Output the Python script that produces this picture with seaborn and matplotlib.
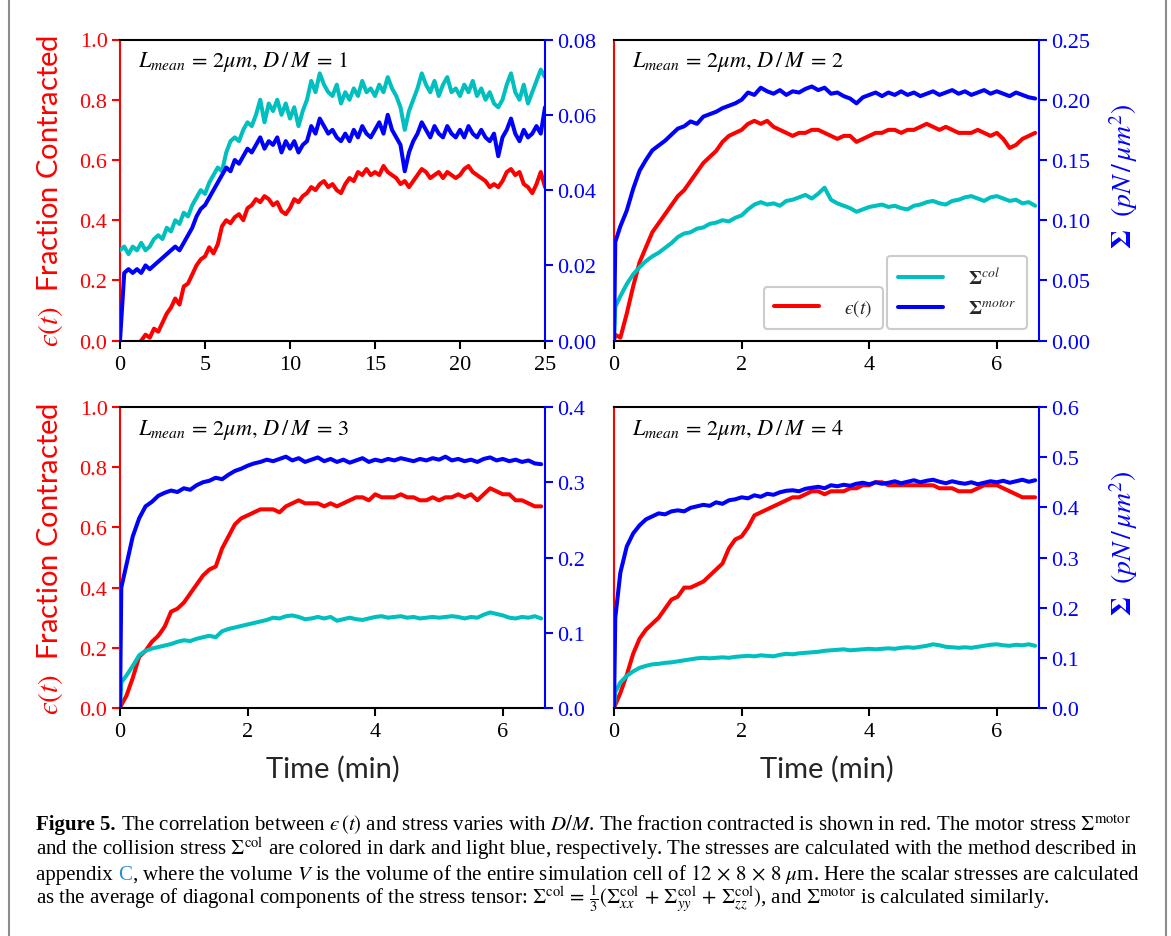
import numpy as np
import seaborn as sns
import matplotlib.pyplot as plt
from matplotlib.lines import Line2D

# ---- data ----
# panel 1 (D/M = 1), t = 0 .. 25 min, every 0.25 min
eps1 = [0.00, -0.02, -0.03, -0.02, -0.01, 0.00, 0.02, 0.01, 0.04, 0.03,
        0.06, 0.09, 0.11, 0.14, 0.12, 0.18, 0.19, 0.22, 0.25, 0.27,
        0.28, 0.31, 0.29, 0.32, 0.38, 0.40, 0.39, 0.41, 0.42, 0.40,
        0.44, 0.45, 0.47, 0.46, 0.48, 0.47, 0.45, 0.46, 0.43, 0.42,
        0.44, 0.47, 0.46, 0.48, 0.49, 0.51, 0.50, 0.52, 0.53, 0.51,
        0.52, 0.50, 0.49, 0.52, 0.54, 0.53, 0.56, 0.55, 0.57, 0.55,
        0.56, 0.55, 0.58, 0.56, 0.55, 0.54, 0.52, 0.53, 0.51, 0.53,
        0.55, 0.57, 0.56, 0.54, 0.55, 0.56, 0.54, 0.56, 0.55, 0.54,
        0.55, 0.57, 0.58, 0.56, 0.55, 0.54, 0.53, 0.51, 0.52, 0.51,
        0.53, 0.56, 0.57, 0.55, 0.56, 0.52, 0.51, 0.49, 0.52, 0.56,
        0.51]
col1 = [0.024, 0.025, 0.023, 0.025, 0.024, 0.026, 0.024, 0.025, 0.027, 0.028,
        0.027, 0.030, 0.029, 0.032, 0.031, 0.034, 0.033, 0.036, 0.038, 0.040,
        0.039, 0.042, 0.044, 0.046, 0.045, 0.050, 0.053, 0.054, 0.053, 0.056,
        0.058, 0.057, 0.060, 0.064, 0.058, 0.063, 0.061, 0.064, 0.060, 0.063,
        0.059, 0.062, 0.057, 0.061, 0.064, 0.069, 0.066, 0.071, 0.068, 0.066,
        0.065, 0.068, 0.063, 0.066, 0.064, 0.067, 0.065, 0.069, 0.066, 0.067,
        0.065, 0.068, 0.066, 0.070, 0.067, 0.065, 0.062, 0.056, 0.061, 0.064,
        0.067, 0.071, 0.068, 0.066, 0.069, 0.065, 0.068, 0.070, 0.066, 0.067,
        0.065, 0.068, 0.066, 0.069, 0.065, 0.067, 0.064, 0.066, 0.063, 0.062,
        0.064, 0.068, 0.071, 0.066, 0.064, 0.068, 0.063, 0.066, 0.069, 0.072,
        0.070]
motor1 = [0.000, 0.018, 0.019, 0.018, 0.019, 0.018, 0.020, 0.019, 0.020, 0.021,
          0.022, 0.023, 0.024, 0.025, 0.024, 0.026, 0.028, 0.030, 0.033, 0.035,
          0.036, 0.038, 0.040, 0.042, 0.044, 0.046, 0.045, 0.048, 0.047, 0.049,
          0.051, 0.050, 0.052, 0.054, 0.051, 0.053, 0.052, 0.054, 0.050, 0.053,
          0.051, 0.053, 0.050, 0.052, 0.053, 0.057, 0.055, 0.059, 0.057, 0.055,
          0.056, 0.054, 0.053, 0.055, 0.053, 0.056, 0.054, 0.057, 0.055, 0.054,
          0.056, 0.058, 0.055, 0.060, 0.056, 0.054, 0.052, 0.045, 0.050, 0.053,
          0.055, 0.058, 0.056, 0.054, 0.057, 0.055, 0.054, 0.057, 0.055, 0.054,
          0.056, 0.054, 0.057, 0.055, 0.054, 0.056, 0.054, 0.053, 0.055, 0.049,
          0.054, 0.056, 0.059, 0.055, 0.053, 0.056, 0.054, 0.055, 0.057, 0.055,
          0.062]

# panels 2-4, t = 0, 0.02, then 0.1 .. 6.6 min every 0.1 min
eps2 = [0.00, 0.02,
        0.01, 0.09, 0.18, 0.26, 0.31, 0.36, 0.39, 0.42, 0.45, 0.48,
        0.50, 0.53, 0.56, 0.59, 0.61, 0.63, 0.66, 0.68, 0.69, 0.70,
        0.72, 0.73, 0.72, 0.73, 0.71, 0.70, 0.69, 0.68, 0.69, 0.69,
        0.70, 0.70, 0.69, 0.68, 0.67, 0.68, 0.68, 0.66, 0.67, 0.68,
        0.69, 0.69, 0.70, 0.70, 0.69, 0.70, 0.70, 0.71, 0.72, 0.71,
        0.70, 0.71, 0.70, 0.69, 0.69, 0.69, 0.70, 0.69, 0.68, 0.69,
        0.67, 0.64, 0.65, 0.67, 0.68, 0.69]
motor2 = [0.000, 0.082,
          0.095, 0.108, 0.126, 0.141, 0.150, 0.158, 0.162, 0.166, 0.171, 0.176,
          0.178, 0.182, 0.180, 0.186, 0.188, 0.190, 0.193, 0.195, 0.197, 0.200,
          0.206, 0.204, 0.210, 0.207, 0.205, 0.208, 0.204, 0.207, 0.206, 0.209,
          0.211, 0.208, 0.210, 0.205, 0.206, 0.203, 0.201, 0.197, 0.202, 0.204,
          0.206, 0.203, 0.206, 0.204, 0.207, 0.204, 0.206, 0.203, 0.205, 0.207,
          0.204, 0.206, 0.208, 0.205, 0.207, 0.204, 0.206, 0.208, 0.205, 0.207,
          0.205, 0.203, 0.206, 0.204, 0.202, 0.201]
col2 = [0.000, 0.028,
        0.037, 0.047, 0.055, 0.061, 0.066, 0.070, 0.073, 0.077, 0.081, 0.086,
        0.089, 0.090, 0.093, 0.094, 0.097, 0.098, 0.100, 0.099, 0.102, 0.104,
        0.109, 0.113, 0.115, 0.113, 0.114, 0.112, 0.116, 0.117, 0.119, 0.121,
        0.118, 0.122, 0.127, 0.117, 0.114, 0.112, 0.110, 0.107, 0.109, 0.111,
        0.112, 0.113, 0.111, 0.112, 0.110, 0.109, 0.112, 0.113, 0.115, 0.116,
        0.114, 0.113, 0.116, 0.117, 0.119, 0.120, 0.118, 0.116, 0.119, 0.120,
        0.118, 0.116, 0.117, 0.114, 0.115, 0.112]

eps3 = [0.00, 0.01,
        0.04, 0.10, 0.17, 0.19, 0.22, 0.24, 0.27, 0.32, 0.33, 0.35,
        0.38, 0.41, 0.44, 0.46, 0.47, 0.53, 0.57, 0.61, 0.63, 0.64,
        0.65, 0.66, 0.66, 0.66, 0.65, 0.67, 0.68, 0.69, 0.68, 0.68,
        0.68, 0.67, 0.68, 0.67, 0.68, 0.69, 0.70, 0.70, 0.69, 0.71,
        0.70, 0.70, 0.70, 0.71, 0.70, 0.70, 0.69, 0.69, 0.70, 0.69,
        0.70, 0.70, 0.71, 0.70, 0.71, 0.69, 0.71, 0.73, 0.72, 0.71,
        0.71, 0.69, 0.69, 0.68, 0.67, 0.67]
motor3 = [0.000, 0.160,
          0.190, 0.228, 0.252, 0.268, 0.274, 0.282, 0.286, 0.289, 0.287, 0.292,
          0.290, 0.296, 0.300, 0.302, 0.306, 0.304, 0.310, 0.315, 0.318, 0.322,
          0.325, 0.327, 0.330, 0.328, 0.331, 0.334, 0.329, 0.332, 0.327, 0.330,
          0.333, 0.328, 0.331, 0.327, 0.330, 0.326, 0.329, 0.332, 0.327, 0.330,
          0.328, 0.331, 0.329, 0.332, 0.330, 0.328, 0.331, 0.329, 0.332, 0.330,
          0.334, 0.329, 0.331, 0.328, 0.330, 0.327, 0.331, 0.333, 0.329, 0.331,
          0.328, 0.330, 0.327, 0.329, 0.325, 0.324]
col3 = [0.000, 0.034,
        0.043, 0.056, 0.070, 0.076, 0.079, 0.081, 0.083, 0.085, 0.088, 0.090,
        0.089, 0.092, 0.094, 0.096, 0.094, 0.102, 0.105, 0.107, 0.109, 0.111,
        0.113, 0.115, 0.117, 0.120, 0.119, 0.122, 0.123, 0.121, 0.118, 0.119,
        0.121, 0.119, 0.121, 0.116, 0.118, 0.120, 0.118, 0.117, 0.119, 0.121,
        0.122, 0.120, 0.121, 0.122, 0.120, 0.121, 0.119, 0.120, 0.121, 0.120,
        0.121, 0.122, 0.121, 0.119, 0.121, 0.120, 0.124, 0.127, 0.125, 0.123,
        0.120, 0.119, 0.121, 0.120, 0.122, 0.119]

eps4 = [0.00, 0.01,
        0.05, 0.11, 0.18, 0.23, 0.26, 0.28, 0.30, 0.33, 0.36, 0.37,
        0.40, 0.40, 0.41, 0.42, 0.44, 0.46, 0.48, 0.53, 0.56, 0.57,
        0.60, 0.64, 0.65, 0.66, 0.67, 0.68, 0.69, 0.70, 0.70, 0.71,
        0.72, 0.72, 0.71, 0.72, 0.72, 0.72, 0.73, 0.73, 0.74, 0.74,
        0.75, 0.75, 0.74, 0.74, 0.74, 0.74, 0.74, 0.74, 0.74, 0.74,
        0.73, 0.73, 0.73, 0.72, 0.72, 0.72, 0.73, 0.74, 0.74, 0.74,
        0.73, 0.72, 0.71, 0.70, 0.70, 0.70]
motor4 = [0.000, 0.180,
          0.270, 0.322, 0.348, 0.364, 0.376, 0.382, 0.388, 0.386, 0.392, 0.394,
          0.392, 0.399, 0.402, 0.405, 0.403, 0.410, 0.407, 0.414, 0.416, 0.420,
          0.418, 0.424, 0.421, 0.427, 0.425, 0.430, 0.433, 0.434, 0.432, 0.437,
          0.439, 0.441, 0.438, 0.444, 0.442, 0.445, 0.443, 0.447, 0.449, 0.446,
          0.450, 0.447, 0.449, 0.452, 0.448, 0.451, 0.454, 0.450, 0.453, 0.455,
          0.451, 0.448, 0.452, 0.449, 0.447, 0.450, 0.446, 0.449, 0.452, 0.450,
          0.453, 0.449, 0.452, 0.455, 0.451, 0.454]
col4 = [0.000, 0.032,
        0.051, 0.064, 0.073, 0.080, 0.084, 0.087, 0.088, 0.090, 0.091, 0.093,
        0.095, 0.097, 0.099, 0.100, 0.099, 0.100, 0.101, 0.100, 0.102, 0.103,
        0.104, 0.103, 0.105, 0.104, 0.103, 0.106, 0.108, 0.107, 0.109, 0.110,
        0.111, 0.112, 0.114, 0.115, 0.116, 0.117, 0.115, 0.116, 0.117, 0.118,
        0.117, 0.118, 0.119, 0.118, 0.120, 0.121, 0.120, 0.122, 0.124, 0.127,
        0.125, 0.122, 0.121, 0.120, 0.121, 0.120, 0.122, 0.124, 0.126, 0.127,
        0.125, 0.124, 0.126, 0.125, 0.127, 0.124]

dm_values = [1, 2, 3, 4]
right_max = [0.08, 0.25, 0.4, 0.6]
right_step = [0.02, 0.05, 0.1, 0.1]
right_fmt = ['%.2f', '%.2f', '%.1f', '%.1f']

t1 = np.linspace(0, 25, len(eps1))
t_short = np.concatenate([[0.0, 0.02], np.linspace(0.1, 6.6, len(eps2) - 2)])

panels = [
    (t1, eps1, col1, motor1, 25.0, [0, 5, 10, 15, 20, 25]),
    (t_short, eps2, col2, motor2, 6.66, [0, 2, 4, 6]),
    (t_short, eps3, col3, motor3, 6.66, [0, 2, 4, 6]),
    (t_short, eps4, col4, motor4, 6.66, [0, 2, 4, 6]),
]

# lunate epsilon, as in the original
EPS = '\u03f5'

# caption, line by line; each line is a list of (text, colour, bold) pieces
caption = [
    [('Figure 5.', 'black', True),
     (' The correlation between $' + EPS + r'\,(t)$ and stress varies with $D/M$. '
      r'The fraction contracted is shown in red. The motor stress $\Sigma^{\rm motor}$',
      'black', False)],
    [(r'and the collision stress $\Sigma^{\rm col}$ are colored in dark and light blue, '
      r'respectively. The stresses are calculated with the method described in',
      'black', False)],
    [('appendix ', 'black', False), ('C', '#2a8fd0', False),
     (r', where the volume $V$ is the volume of the entire simulation cell of '
      r'$12\,\times\,8\,\times\,8\ \mu$m. Here the scalar stresses are calculated',
      'black', False)],
    [(r'as the average of diagonal components of the stress tensor: '
      r'$\Sigma^{\rm col}\,=\,\frac{1}{3}(\Sigma^{\rm col}_{xx}\,+\,\Sigma^{\rm col}_{yy}'
      r'\,+\,\Sigma^{\rm col}_{zz})$, and $\Sigma^{\rm motor}$ is calculated similarly.',
      'black', False)],
]
caption_baselines = [830, 855, 880, 905]

RED = '#ff0000'
BLUE = '#0000ff'
TEAL = '#00bfbf'
SANS = ['Lato', 'DejaVu Sans']

sns.set_style('ticks')
plt.rcParams['font.family'] = ['Liberation Serif', 'DejaVu Serif']
plt.rcParams['mathtext.fontset'] = 'stix'

fig = plt.figure(figsize=(11.71, 9.37), dpi=100)
W, H = 1171.0, 937.0
boxes = [(120, 40.5, 545, 341.7), (614, 40.5, 1039, 341.7),
         (120, 408, 545, 709), (614, 408, 1039, 709)]

lw = 2.9
for i, (t, eps, col, mot, xmax, xt) in enumerate(panels):
    x0, y0, x1, y1 = boxes[i]
    ax = fig.add_axes([x0 / W, 1 - y1 / H, (x1 - x0) / W, (y1 - y0) / H])
    ax2 = ax.twinx()

    sns.lineplot(x=t, y=eps, ax=ax, color=RED, lw=lw, legend=False)
    sns.lineplot(x=t, y=col, ax=ax2, color=TEAL, lw=lw, legend=False)
    sns.lineplot(x=t, y=mot, ax=ax2, color=BLUE, lw=lw, legend=False)

    ax.set_xlim(0, xmax)
    ax.set_ylim(0, 1)
    ax2.set_ylim(0, right_max[i])
    ax.set_xticks(xt)
    ax.set_yticks(np.arange(0, 1.01, 0.2))
    ax2.set_yticks(np.arange(0, right_max[i] + 1e-9, right_step[i]))
    ax.yaxis.set_major_formatter(plt.FormatStrFormatter('%.1f'))
    ax2.yaxis.set_major_formatter(plt.FormatStrFormatter(right_fmt[i]))
    ax.set_xlabel('')
    ax.set_ylabel('')
    ax2.set_ylabel('')

    for a in (ax, ax2):
        for s in a.spines.values():
            s.set_linewidth(1.5)
    ax.spines['left'].set_color(RED)
    ax.spines['right'].set_visible(False)
    ax.spines['top'].set_color('black')
    ax.spines['bottom'].set_color('black')
    ax2.spines['left'].set_visible(False)
    ax2.spines['top'].set_visible(False)
    ax2.spines['bottom'].set_visible(False)
    ax2.spines['right'].set_visible(True)
    ax2.spines['right'].set_color(BLUE)

    ax.tick_params(axis='x', direction='out', length=6, width=1.5, colors='black',
                   labelsize=16, pad=4)
    ax.tick_params(axis='y', direction='out', length=6, width=1.5, colors=RED,
                   labelsize=16, pad=3)
    ax2.tick_params(axis='y', direction='out', length=6, width=1.5, colors=BLUE,
                    labelsize=16, pad=3)

    if i in (1, 3):
        ax.tick_params(axis='y', left=False, labelleft=False)
        ax2.set_ylabel(r'$\mathbf{\Sigma}$  $(pN\,/\,\mu m^2)$', color=BLUE,
                       fontsize=20)
        ax2.yaxis.set_label_coords(1.16, 0.55)
    else:
        ax.set_ylabel('$' + EPS + '(t)$  Fraction Contracted', color=RED,
                      fontsize=21, family=SANS)
        ax.yaxis.set_label_coords(-0.13, 0.5)
    if i in (2, 3):
        ax.set_xlabel('Time (min)', fontsize=21, family=SANS, labelpad=10)

    ax.text(0.042, 0.928, r'$L_{mean}\,=\,2\mu m,\,D\,/\,M\;=\,%d$' % dm_values[i],
            transform=ax.transAxes, fontsize=16, va='center', ha='left',
            color='black')

    if i == 1:
        h_eps = ax.get_lines()[0]
        h_col, h_mot = ax2.get_lines()[0], ax2.get_lines()[1]
        leg_kw = dict(fontsize=14, handlelength=2.3, handletextpad=1.3,
                      borderpad=0.55, labelspacing=0.55, fancybox=True,
                      edgecolor='#cccccc', framealpha=1, loc='lower right',
                      borderaxespad=0)
        leg2 = ax2.legend([h_col, h_mot],
                          [r'$\mathbf{\Sigma}^{col}$', r'$\mathbf{\Sigma}^{motor}$'],
                          bbox_to_anchor=(0.972, 0.039), **leg_kw)
        leg2.get_frame().set_linewidth(1.5)
        leg1 = ax2.legend([h_eps], ['$' + EPS + '(t)$'],
                          bbox_to_anchor=(0.633, 0.039), **leg_kw)
        leg1.get_frame().set_linewidth(1.5)
        ax2.add_artist(leg2)

# figure frame lines
for xf in (9 / W, 1166 / W):
    fig.add_artist(Line2D([xf, xf], [0, 1], color='#8c8c8c', lw=1.5,
                          transform=fig.transFigure))

# caption: pieces placed one after another on a shared baseline
cap_fs = 15.0
renderer = fig.canvas.get_renderer()
for pieces, base in zip(caption, caption_baselines):
    x = 36 / W
    for txt, colour, bold in pieces:
        tt = fig.text(x, 1 - base / H, txt, fontsize=cap_fs, color=colour,
                      fontweight='bold' if bold else 'normal',
                      va='baseline', ha='left')
        x = fig.transFigure.inverted().transform(
            (tt.get_window_extent(renderer).x1, 0))[0]

fig.savefig('out.png', dpi=100)
